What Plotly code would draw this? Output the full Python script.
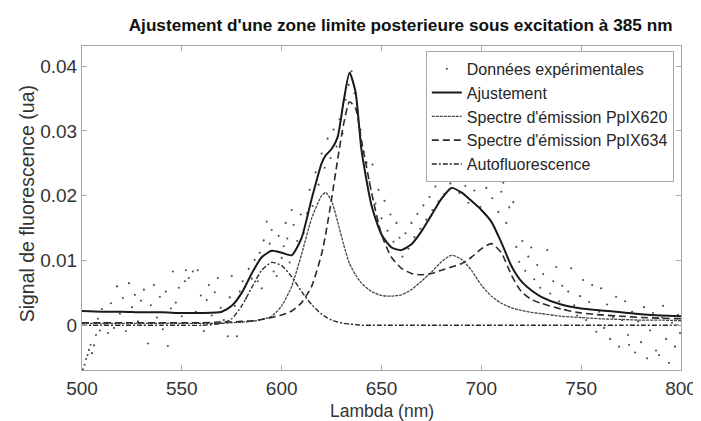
import plotly.graph_objects as go

# ---------------- data ----------------
wavelength = [500, 510, 520, 530, 540, 550, 560, 570, 575, 580, 585, 590, 595, 600,
              605, 610, 615, 620, 622, 625, 628, 631, 634, 637, 640, 645, 650, 655,
              660, 665, 670, 675, 680, 685, 690, 695, 700, 705, 710, 715, 720, 725,
              730, 740, 750, 760, 770, 780, 790, 800]

fit_values = [0.0022, 0.0021, 0.0021, 0.0020, 0.0020, 0.0019, 0.0019, 0.0021, 0.0030, 0.0050,
              0.0080, 0.0105, 0.0115, 0.0112, 0.0108, 0.0135, 0.0195, 0.0250, 0.0262, 0.0272,
              0.0290, 0.0345, 0.0390, 0.0360, 0.0270, 0.0185, 0.0140, 0.0120, 0.0116, 0.0125,
              0.0145, 0.0170, 0.0195, 0.0212, 0.0205, 0.0192, 0.0178, 0.0160, 0.0128, 0.0092,
              0.0068, 0.0054, 0.0044, 0.0032, 0.0026, 0.0023, 0.0020, 0.0017, 0.0015, 0.0014]

ppix620 = [0.0003, 0.0003, 0.0003, 0.0003, 0.0003, 0.0003, 0.0003, 0.0003, 0.0004, 0.0005,
           0.0006, 0.0009, 0.0014, 0.0030, 0.0060, 0.0110, 0.0165, 0.0200, 0.0205, 0.0192,
           0.0160, 0.0125, 0.0095, 0.0078, 0.0065, 0.0052, 0.0046, 0.0045, 0.0047, 0.0055,
           0.0068, 0.0082, 0.0098, 0.0108, 0.0102, 0.0085, 0.0062, 0.0045, 0.0034, 0.0027,
           0.0023, 0.0020, 0.0018, 0.0014, 0.0012, 0.0010, 0.0009, 0.0008, 0.0008, 0.0007]

ppix634 = [0.0004, 0.0004, 0.0004, 0.0004, 0.0004, 0.0004, 0.0004, 0.0005, 0.0005, 0.0006,
           0.0007, 0.0009, 0.0012, 0.0016, 0.0022, 0.0035, 0.0060, 0.0110, 0.0140, 0.0195,
           0.0255, 0.0310, 0.0345, 0.0335, 0.0285, 0.0205, 0.0140, 0.0105, 0.0088, 0.0080,
           0.0078, 0.0080, 0.0085, 0.0090, 0.0095, 0.0105, 0.0118, 0.0126, 0.0112, 0.0078,
           0.0052, 0.0040, 0.0034, 0.0025, 0.0019, 0.0016, 0.0014, 0.0012, 0.0011, 0.0010]

autofluo = [0.0000, 0.0000, 0.0000, 0.0000, 0.0000, 0.0000, 0.0000, 0.0003, 0.0010, 0.0030,
            0.0058, 0.0085, 0.0097, 0.0092, 0.0075, 0.0052, 0.0032, 0.0017, 0.0013, 0.0008,
            0.0005, 0.0003, 0.0002, 0.0001, 0.0000, 0.0000, 0.0000, 0.0000, 0.0000, 0.0000,
            0.0000, 0.0000, 0.0000, 0.0000, 0.0000, 0.0000, 0.0000, 0.0000, 0.0000, 0.0000,
            0.0000, 0.0000, 0.0000, 0.0000, 0.0000, 0.0000, 0.0000, 0.0000, 0.0000, 0.0000]

data_x = [500.5, 501.3, 502.0, 502.8, 503.5, 504.3, 505.0, 506.0, 507.0, 508.0, 509.0, 510.0,
          511.5, 513.0, 514.5, 516.0, 517.5, 519.0, 520.5, 522.0, 523.5, 525.0, 526.5, 528.0,
          529.5, 531.0, 533.0, 534.5, 536.0, 537.5, 539.0, 540.5, 542.0, 543.0, 544.5, 545.5,
          547.0, 548.5, 550.0, 551.5, 552.0, 553.5, 555.5, 557.0, 558.0, 559.5, 561.0, 562.5,
          563.5, 565.0, 566.5, 568.0, 569.5, 571.0, 573.0, 574.0, 575.0, 576.5, 577.6, 579.0,
          580.5, 582.0, 583.5, 585.0, 586.5, 588.0, 589.0, 590.0, 591.0, 592.5, 594.0, 595.0,
          596.0, 597.5, 598.5, 600.0, 601.0, 602.0, 602.8, 604.0, 605.0, 606.0, 607.8, 609.6,
          611.0, 612.7, 614.0, 615.5, 617.0, 618.5, 620.0, 621.5, 623.0, 624.5, 626.0, 627.5,
          629.0, 630.5, 632.0, 633.5, 635.0, 636.5, 638.0, 639.5, 641.0, 642.5, 644.0, 645.5,
          647.0, 648.5, 650.0, 651.5, 653.0, 654.5, 656.0, 657.5, 659.0, 660.5, 662.0, 663.5,
          665.0, 666.5, 668.0, 669.5, 671.0, 672.5, 674.0, 675.5, 677.0, 678.5, 680.0, 681.5,
          683.0, 684.5, 686.0, 687.5, 689.0, 690.5, 692.0, 693.5, 695.0, 696.5, 698.0, 699.5,
          701.0, 702.5, 704.0, 705.5, 707.0, 708.5, 710.0, 711.0, 712.5, 714.0, 716.0, 717.5,
          719.0, 720.5, 722.0, 723.5, 725.0, 726.5, 728.0, 729.5, 731.0, 733.0, 734.5, 736.0,
          737.5, 739.0, 740.5, 742.0, 743.5, 745.0, 746.5, 748.0, 749.5, 751.0, 752.5, 754.0,
          755.5, 757.6, 759.0, 760.0, 761.5, 763.0, 764.5, 766.0, 767.5, 769.0, 770.5, 772.0,
          773.5, 774.0, 775.5, 777.0, 778.5, 780.0, 781.5, 783.0, 784.5, 786.0, 787.5, 789.0,
          790.5, 791.0, 792.5, 794.0, 795.5, 797.0, 798.5, 799.5]

data_y = [-0.0068, -0.0061, -0.0052, -0.0046, -0.0038, -0.0030, -0.0043, -0.0031, -0.0015, 0.0010, -0.0008, 0.0025,
          0.0003, -0.0012, 0.0034, -0.0004, 0.0060, 0.0018, 0.0042, -0.0009, 0.0065, 0.0028, 0.0047, 0.0006,
          0.0038, 0.0055, -0.0028, 0.0031, 0.0062, 0.0012, 0.0044, -0.0006, 0.0052, -0.0032, 0.0026, 0.0083,
          0.0035, 0.0058, 0.0014, 0.0068, 0.0085, 0.0073, 0.0083, 0.0021, 0.0085, 0.0046, -0.0009, 0.0039,
          0.0062, 0.0015, 0.0051, 0.0073, 0.0027, 0.0008, -0.0017, 0.0043, 0.0076, 0.0030, -0.0017, 0.0052,
          0.0068, 0.0041, 0.0087, 0.0072, 0.0101, 0.0068, 0.0112, 0.0057, 0.0131, 0.0160, 0.0126, 0.0147,
          0.0083, 0.0076, 0.0138, 0.0104, 0.0122, 0.0158, 0.0134, 0.0097, 0.0178, 0.0155, 0.0130, 0.0171,
          0.0142, 0.0173, 0.0209, 0.0184, 0.0236, 0.0217, 0.0265, 0.0243, 0.0288, 0.0258, 0.0302, 0.0276,
          0.0318, 0.0296, 0.0348, 0.0371, 0.0392, 0.0358, 0.0331, 0.0302, 0.0268, 0.0251, 0.0221, 0.0248,
          0.0188, 0.0209, 0.0165, 0.0192, 0.0146, 0.0171, 0.0129, 0.0158, 0.0135, 0.0106, 0.0142, 0.0118,
          0.0158, 0.0136, 0.0172, 0.0149, 0.0185, 0.0163, 0.0198, 0.0178, 0.0214, 0.0191, 0.0228, 0.0203,
          0.0242, 0.0219, 0.0251, 0.0226, 0.0204, 0.0238, 0.0215, 0.0189, 0.0247, 0.0208, 0.0231, 0.0183,
          0.0242, 0.0212, 0.0256, 0.0196, 0.0228, 0.0175, 0.0206, 0.0220, 0.0158, 0.0182, 0.0190, 0.0121,
          0.0098, 0.0130, 0.0084, 0.0106, 0.0120, 0.0071, 0.0093, 0.0058, 0.0079, 0.0116, 0.0049, 0.0068,
          0.0090, 0.0037, 0.0061, 0.0024, 0.0052, 0.0088, 0.0031, 0.0015, 0.0045, 0.0070, 0.0008, 0.0036,
          0.0062, -0.0010, 0.0021, 0.0057, -0.0004, 0.0032, -0.0021, 0.0012, 0.0044, -0.0033, 0.0008, 0.0037,
          -0.0015, -0.0030, 0.0021, -0.0042, 0.0006, -0.0026, 0.0028, -0.0051, -0.0008, 0.0019, -0.0039, -0.0046,
          0.0012, 0.0030, -0.0021, -0.0058, 0.0004, -0.0033, 0.0016, -0.0012]

x_ticks = [500, 550, 600, 650, 700, 750, 800]
y_ticks = [0, 0.01, 0.02, 0.03, 0.04]
y_tick_labels = ["0", "0.01", "0.02", "0.03", "0.04"]

# ---------------- figure ----------------
FONT = "Liberation Sans, Arial, Helvetica, sans-serif"
TXT = "#333333"
AX = "#a8a8a8"

fig = go.Figure()
fig.add_trace(go.Scatter(x=data_x, y=data_y, mode="markers", name="Données expérimentales",
                         marker=dict(size=2.1, color="#4d4d4d")))
fig.add_trace(go.Scatter(x=wavelength, y=fit_values, mode="lines", name="Ajustement",
                         line=dict(color="#1a1a1a", width=2, shape="spline", smoothing=0.6)))
fig.add_trace(go.Scatter(x=wavelength, y=ppix620, mode="lines", name="Spectre d'émission PpIX620",
                         line=dict(color="#454545", width=1.3, dash="3px,1px", shape="spline", smoothing=0.6)))
fig.add_trace(go.Scatter(x=wavelength, y=ppix634, mode="lines", name="Spectre d'émission PpIX634",
                         line=dict(color="#2a2a2a", width=1.6, dash="7px,4px", shape="spline", smoothing=0.6)))
fig.add_trace(go.Scatter(x=wavelength, y=autofluo, mode="lines", name="Autofluorescence",
                         line=dict(color="#2a2a2a", width=1.4, dash="5px,2px,2px,2px", shape="spline", smoothing=0.6)))

axis_common = dict(showline=True, linecolor=AX, linewidth=1, mirror="ticks",
                   ticks="inside", ticklen=5, tickcolor=AX, showgrid=False, zeroline=False,
                   tickfont=dict(family=FONT, size=19, color=TXT))

fig.update_layout(
    width=701, height=421,
    margin=dict(l=74, r=18, t=38, b=59),
    paper_bgcolor="white", plot_bgcolor="white",
    title=dict(text="<b>Ajustement d'une zone limite posterieure sous excitation à 385 nm</b>",
               font=dict(family=FONT, size=17.2, color="#111111"),
               x=0.56, xanchor="center", y=0.96, yanchor="middle"),
    xaxis=dict(range=[500, 800], tickvals=x_ticks, ticklabelstandoff=1, **axis_common),
    yaxis=dict(range=[-0.0069, 0.0431], tickvals=y_ticks, ticktext=y_tick_labels, **axis_common),
    annotations=[
        dict(text="Lambda (nm)", xref="paper", yref="paper", x=0.5, y=-0.125,
             xanchor="center", yanchor="middle", showarrow=False, borderpad=0,
             font=dict(family=FONT, size=17.5, color=TXT)),
        dict(text="Signal de fluorescence (ua)", xref="paper", yref="paper", x=-0.0903, y=0.514,
             xanchor="center", yanchor="middle", textangle=-90, showarrow=False,
             font=dict(family=FONT, size=19.5, color=TXT)),
    ],
    legend=dict(x=0.988, xanchor="right", y=0.985, yanchor="top",
                bgcolor="white", bordercolor=AX, borderwidth=1,
                font=dict(family=FONT, size=16, color="#262626"),
                tracegroupgap=0, itemwidth=30),
    showlegend=True,
)

fig.write_html("out.html")
